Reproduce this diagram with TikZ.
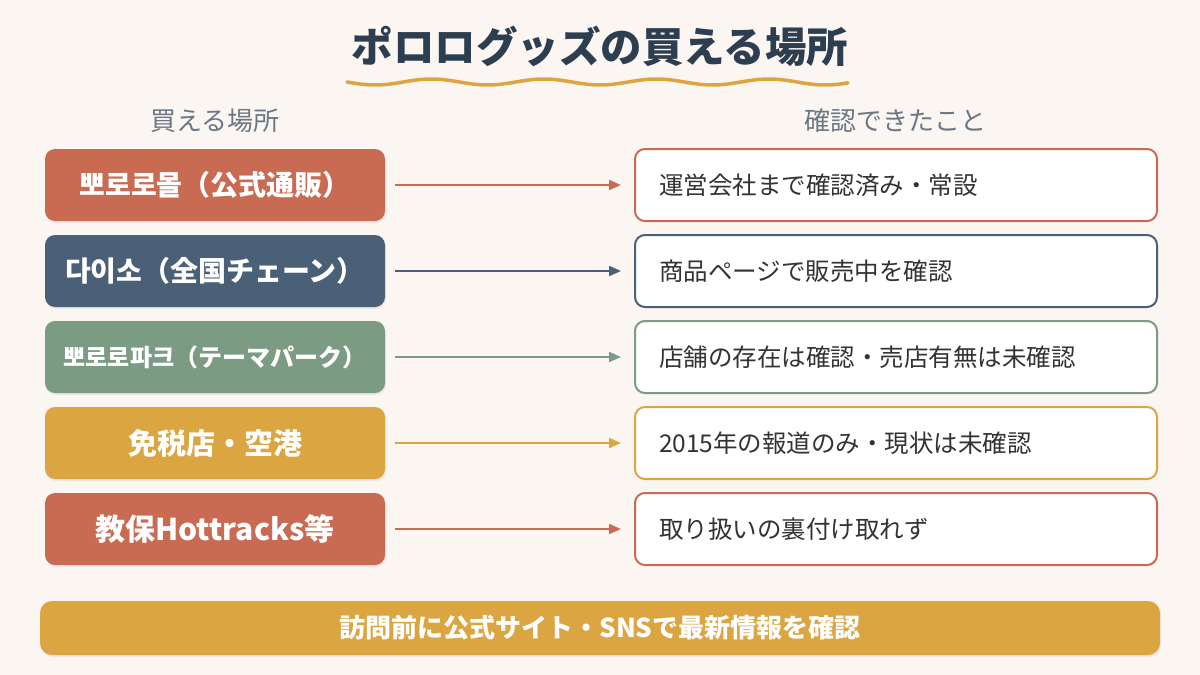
\documentclass[tikz,border=0pt]{standalone}
\usepackage{fontspec}
\setmainfont{Noto Sans CJK JP}
\usetikzlibrary{arrows.meta,positioning,shadows}
\definecolor{bgc}{HTML}{FBF6F1}
\definecolor{ink}{HTML}{2C3E50}
\definecolor{greytext}{HTML}{6B7785}
\definecolor{bodytext}{HTML}{333333}
\definecolor{terra}{HTML}{C96B53}
\definecolor{slate}{HTML}{4A6076}
\definecolor{sage}{HTML}{7B9B83}
\definecolor{gold}{HTML}{DBA541}

\begin{document}
\begin{tikzpicture}[x=1pt,y=-1pt,
    lbox/.style={rounded corners=10pt, minimum width=340pt, minimum height=72pt,
        text=white, font=\bfseries\fontsize{28}{32}\selectfont,
        drop shadow={opacity=0.12, shadow xshift=1pt, shadow yshift=-2pt}},
    rbox/.style={rounded corners=10pt, fill=white, line width=2pt, minimum width=522pt,
        minimum height=72pt, inner xsep=24pt, text width=474pt, align=left,
        text=bodytext, font=\fontsize{24.5}{28}\selectfont},
    arr/.style={line width=2pt, -{Triangle[length=12pt,width=10pt]},
        shorten <=10pt, shorten >=13pt}]
    % background
    \fill[bgc] (0,0) rectangle (1200,675);
    \useasboundingbox (0,0) rectangle (1200,675);

    % title
    \node[text=ink, font=\bfseries\fontsize{41.5}{48}\selectfont] (title) at (600,46) {ポロログッズの買える場所};
    \draw[gold, line width=3.5pt, line cap=round]
        plot[domain=347:848, samples=120] (\x, {82+3*sin((\x-347)*3.2)});

    % column heads
    \node[text=greytext, font=\fontsize{26}{30}\selectfont] (headl) at (215,121) {買える場所};
    \node[text=greytext, font=\fontsize{26}{30}\selectfont] (headr) at (895,121) {確認できたこと};

    % places
    \node[lbox, fill=terra] (l1) at (215,185) {뽀로로몰（公式通販）};
    \node[lbox, fill=slate] (l2) at (215,271) {다이소（全国チェーン）};
    \node[lbox, fill=sage, font=\bfseries\fontsize{24}{28}\selectfont] (l3) at (215,357) {뽀로로파크（テーマパーク）};
    \node[lbox, fill=gold, font=\bfseries\fontsize{29}{33}\selectfont] (l4) at (215,443) {免税店・空港};
    \node[lbox, fill=terra, font=\bfseries\fontsize{30}{34}\selectfont] (l5) at (215,529) {教保Hottracks等};

    % what was confirmed
    \node[rbox, draw=terra] (r1) at (896,185) {運営会社まで確認済み・常設};
    \node[rbox, draw=slate] (r2) at (896,271) {商品ページで販売中を確認};
    \node[rbox, draw=sage] (r3) at (896,357) {店舗の存在は確認・売店有無は未確認};
    \node[rbox, draw=gold] (r4) at (896,443) {2015年の報道のみ・現状は未確認};
    \node[rbox, draw=terra] (r5) at (896,529) {取り扱いの裏付け取れず};

    \draw[arr, terra] (l1) -- (r1);
    \draw[arr, slate] (l2) -- (r2);
    \draw[arr, sage] (l3) -- (r3);
    \draw[arr, gold] (l4) -- (r4);
    \draw[arr, terra] (l5) -- (r5);

    % note
    \node[fill=gold, rounded corners=12pt, minimum width=1120pt, minimum height=54pt,
        text=white, font=\bfseries\fontsize{26}{30}\selectfont,
        drop shadow={opacity=0.12, shadow xshift=1pt, shadow yshift=-2pt}] (note) at (600,628)
        {訪問前に公式サイト・SNSで最新情報を確認};
\end{tikzpicture}
\end{document}
